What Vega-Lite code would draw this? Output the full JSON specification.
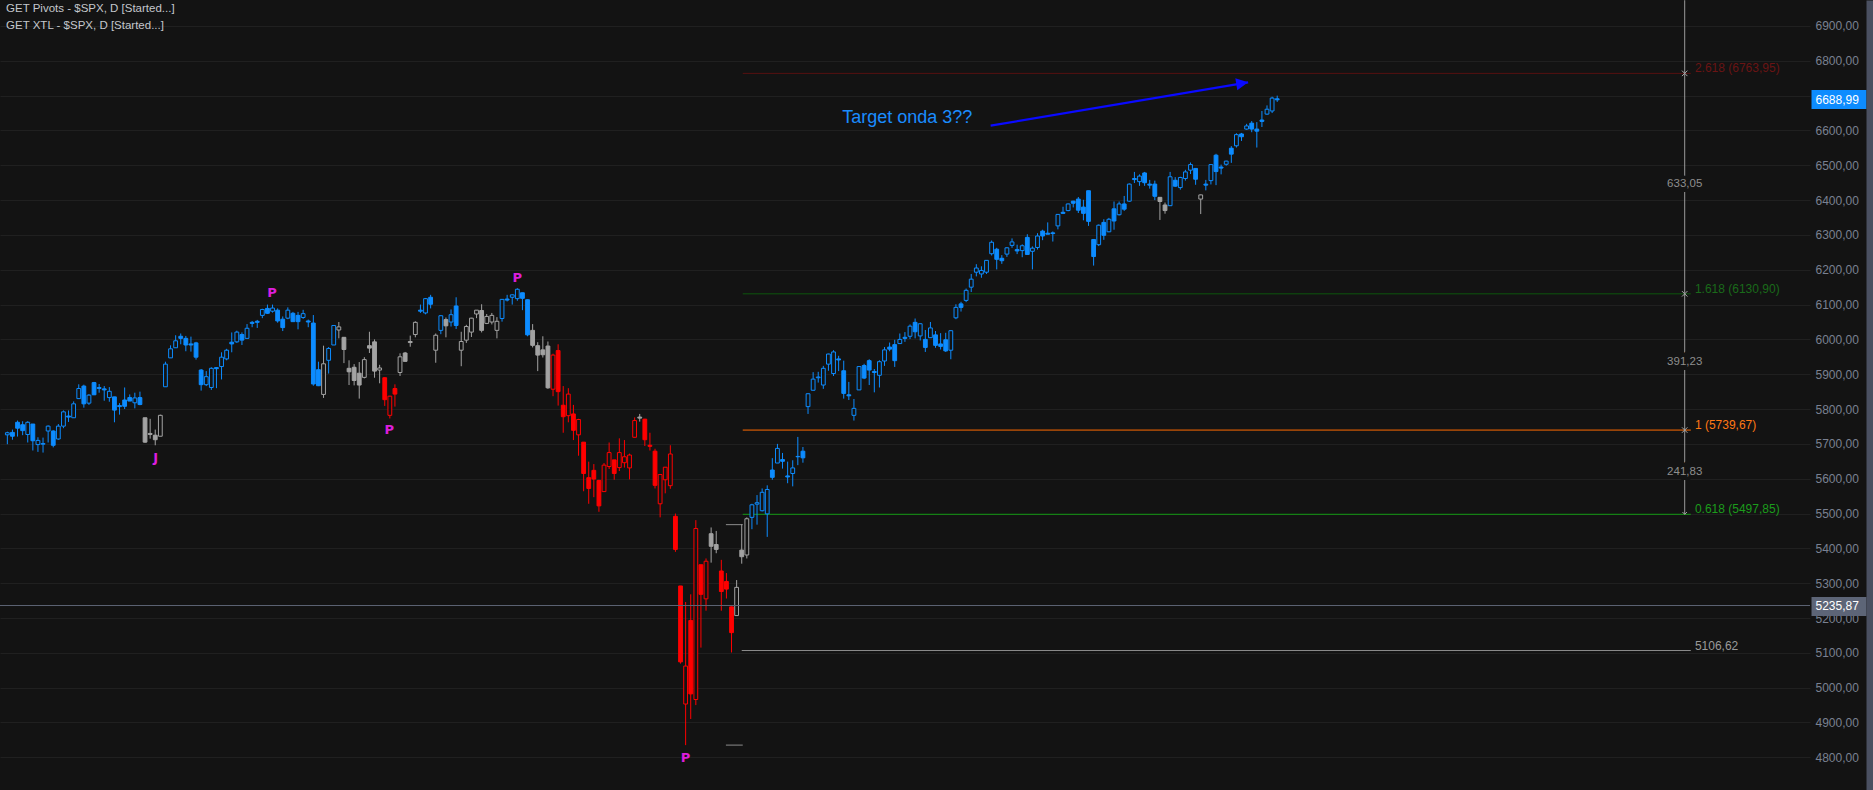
{
  "$schema": "https://vega.github.io/schema/vega-lite/v6.json",
  "width": 1810,
  "height": 790,
  "autosize": {"type": "none"},
  "padding": {"left": 0, "top": 0, "right": 63, "bottom": 0},
  "background": "#131313",
  "config": {"view": {"stroke": null}, "axis": {"labelFont": "Liberation Sans"}},
  "datasets": {
    "candles": [
      {"i":-5,"o":5726,"h":5735,"l":5699,"c":5732,"t":"b"},
      {"i":-4,"o":5733,"h":5741,"l":5712,"c":5722,"t":"b"},
      {"i":-3,"o":5762,"h":5767,"l":5721,"c":5745,"t":"b"},
      {"i":-2,"o":5755,"h":5765,"l":5725,"c":5738,"t":"b"},
      {"i":-1,"o":5727,"h":5765,"l":5704,"c":5762,"t":"b"},
      {"i":0,"o":5757,"h":5757,"l":5681,"c":5709,"t":"b"},
      {"i":1,"o":5698,"h":5719,"l":5677,"c":5710,"t":"b"},
      {"i":2,"o":5699,"h":5718,"l":5675,"c":5701,"t":"b"},
      {"i":3,"o":5737,"h":5753,"l":5704,"c":5751,"t":"b"},
      {"i":4,"o":5737,"h":5739,"l":5690,"c":5696,"t":"b"},
      {"i":5,"o":5714,"h":5757,"l":5712,"c":5751,"t":"b"},
      {"i":6,"o":5751,"h":5796,"l":5745,"c":5792,"t":"b"},
      {"i":7,"o":5780,"h":5796,"l":5763,"c":5777,"t":"b"},
      {"i":8,"o":5775,"h":5822,"l":5775,"c":5815,"t":"b"},
      {"i":9,"o":5830,"h":5871,"l":5829,"c":5859,"t":"b"},
      {"i":10,"o":5866,"h":5870,"l":5804,"c":5815,"t":"b"},
      {"i":11,"o":5817,"h":5843,"l":5812,"c":5840,"t":"b"},
      {"i":12,"o":5876,"h":5878,"l":5840,"c":5841,"t":"b"},
      {"i":13,"o":5862,"h":5872,"l":5847,"c":5859,"t":"b"},
      {"i":14,"o":5858,"h":5866,"l":5824,"c":5855,"t":"b"},
      {"i":15,"o":5833,"h":5863,"l":5821,"c":5851,"t":"b"},
      {"i":16,"o":5835,"h":5835,"l":5762,"c":5797,"t":"b"},
      {"i":17,"o":5810,"h":5817,"l":5784,"c":5807,"t":"b"},
      {"i":18,"o":5826,"h":5862,"l":5800,"c":5808,"t":"b"},
      {"i":19,"o":5833,"h":5842,"l":5823,"c":5823,"t":"b"},
      {"i":20,"o":5818,"h":5847,"l":5802,"c":5832,"t":"b"},
      {"i":21,"o":5833,"h":5850,"l":5811,"c":5813,"t":"b"},
      {"i":22,"o":5775,"h":5775,"l":5703,"c":5705,"t":"g"},
      {"i":23,"o":5730,"h":5772,"l":5715,"c":5727,"t":"g"},
      {"i":24,"o":5725,"h":5741,"l":5696,"c":5712,"t":"g"},
      {"i":25,"o":5722,"h":5784,"l":5722,"c":5782,"t":"g"},
      {"i":26,"o":5864,"h":5936,"l":5864,"c":5929,"t":"b"},
      {"i":27,"o":5947,"h":5983,"l":5947,"c":5973,"t":"b"},
      {"i":28,"o":5976,"h":6012,"l":5976,"c":5996,"t":"b"},
      {"i":29,"o":6009,"h":6017,"l":5986,"c":6003,"t":"b"},
      {"i":30,"o":6003,"h":6010,"l":5966,"c":5984,"t":"b"},
      {"i":31,"o":5987,"h":6008,"l":5965,"c":5984,"t":"b"},
      {"i":32,"o":5990,"h":5993,"l":5942,"c":5949,"t":"b"},
      {"i":33,"o":5912,"h":5915,"l":5853,"c":5870,"t":"b"},
      {"i":34,"o":5870,"h":5909,"l":5866,"c":5893,"t":"b"},
      {"i":35,"o":5862,"h":5920,"l":5855,"c":5917,"t":"b"},
      {"i":36,"o":5919,"h":5920,"l":5860,"c":5916,"t":"b"},
      {"i":37,"o":5922,"h":5963,"l":5885,"c":5949,"t":"b"},
      {"i":38,"o":5944,"h":5973,"l":5940,"c":5969,"t":"b"},
      {"i":39,"o":5992,"h":6020,"l":5963,"c":5987,"t":"b"},
      {"i":40,"o":5993,"h":6025,"l":5990,"c":6021,"t":"b"},
      {"i":41,"o":6014,"h":6020,"l":5984,"c":5998,"t":"b"},
      {"i":42,"o":6003,"h":6044,"l":6003,"c":6032,"t":"b"},
      {"i":43,"o":6049,"h":6053,"l":6035,"c":6046,"t":"b"},
      {"i":44,"o":6052,"h":6056,"l":6033,"c":6049,"t":"b"},
      {"i":45,"o":6069,"h":6088,"l":6061,"c":6086,"t":"b"},
      {"i":46,"o":6089,"h":6100,"l":6073,"c":6075,"t":"b"},
      {"i":47,"o":6081,"h":6100,"l":6077,"c":6090,"t":"b"},
      {"i":48,"o":6084,"h":6089,"l":6048,"c":6053,"t":"b"},
      {"i":49,"o":6058,"h":6066,"l":6024,"c":6034,"t":"b"},
      {"i":50,"o":6061,"h":6092,"l":6058,"c":6084,"t":"b"},
      {"i":51,"o":6075,"h":6079,"l":6051,"c":6051,"t":"b"},
      {"i":52,"o":6069,"h":6079,"l":6029,"c":6051,"t":"b"},
      {"i":53,"o":6063,"h":6085,"l":6059,"c":6074,"t":"b"},
      {"i":54,"o":6053,"h":6057,"l":6035,"c":6050,"t":"b"},
      {"i":55,"o":6047,"h":6070,"l":5867,"c":5872,"t":"b"},
      {"i":56,"o":5913,"h":5936,"l":5866,"c":5867,"t":"b"},
      {"i":57,"o":5842,"h":5982,"l":5832,"c":5930,"t":"g"},
      {"i":58,"o":5940,"h":5978,"l":5902,"c":5974,"t":"b"},
      {"i":59,"o":5984,"h":6040,"l":5984,"c":6040,"t":"b"},
      {"i":60,"o":6027,"h":6050,"l":6003,"c":6036,"t":"g"},
      {"i":61,"o":6006,"h":6007,"l":5932,"c":5971,"t":"g"},
      {"i":62,"o":5917,"h":5940,"l":5869,"c":5907,"t":"g"},
      {"i":63,"o":5920,"h":5929,"l":5868,"c":5882,"t":"g"},
      {"i":64,"o":5903,"h":5935,"l":5830,"c":5869,"t":"g"},
      {"i":65,"o":5891,"h":5949,"l":5888,"c":5942,"t":"g"},
      {"i":66,"o":5982,"h":6022,"l":5961,"c":5975,"t":"g"},
      {"i":67,"o":5993,"h":6000,"l":5890,"c":5909,"t":"g"},
      {"i":68,"o":5912,"h":5927,"l":5874,"c":5918,"t":"g"},
      {"i":69,"o":5890,"h":5891,"l":5809,"c":5827,"t":"r"},
      {"i":70,"o":5782,"h":5838,"l":5773,"c":5837,"t":"r"},
      {"i":71,"o":5859,"h":5871,"l":5807,"c":5843,"t":"r"},
      {"i":72,"o":5905,"h":5960,"l":5895,"c":5950,"t":"g"},
      {"i":73,"o":5961,"h":5964,"l":5936,"c":5937,"t":"g"},
      {"i":74,"o":5994,"h":6011,"l":5979,"c":5991,"t":"g"},
      {"i":75,"o":6014,"h":6052,"l":6006,"c":6049,"t":"g"},
      {"i":76,"o":6084,"h":6100,"l":6076,"c":6081,"t":"b"},
      {"i":77,"o":6076,"h":6119,"l":6072,"c":6117,"t":"b"},
      {"i":78,"o":6121,"h":6128,"l":6089,"c":6101,"t":"b"},
      {"i":79,"o":5969,"h":6017,"l":5933,"c":6012,"t":"g"},
      {"i":80,"o":6026,"h":6069,"l":6015,"c":6068,"t":"b"},
      {"i":81,"o":6057,"h":6063,"l":6006,"c":6039,"t":"g"},
      {"i":82,"o":6050,"h":6086,"l":6037,"c":6071,"t":"b"},
      {"i":83,"o":6096,"h":6121,"l":6030,"c":6040,"t":"b"},
      {"i":84,"o":5969,"h":6022,"l":5923,"c":5994,"t":"g"},
      {"i":85,"o":5998,"h":6042,"l":5990,"c":6037,"t":"g"},
      {"i":86,"o":6021,"h":6062,"l":6007,"c":6061,"t":"g"},
      {"i":87,"o":6073,"h":6084,"l":6061,"c":6084,"t":"g"},
      {"i":88,"o":6083,"h":6101,"l":6020,"c":6026,"t":"g"},
      {"i":89,"o":6046,"h":6073,"l":6044,"c":6066,"t":"g"},
      {"i":90,"o":6050,"h":6076,"l":6043,"c":6069,"t":"g"},
      {"i":91,"o":6026,"h":6064,"l":6003,"c":6052,"t":"g"},
      {"i":92,"o":6060,"h":6116,"l":6051,"c":6115,"t":"b"},
      {"i":93,"o":6116,"h":6128,"l":6109,"c":6113,"t":"b"},
      {"i":94,"o":6121,"h":6129,"l":6100,"c":6128,"t":"b"},
      {"i":95,"o":6117,"h":6147,"l":6111,"c":6144,"t":"b"},
      {"i":96,"o":6134,"h":6134,"l":6084,"c":6118,"t":"b"},
      {"i":97,"o":6114,"h":6115,"l":6009,"c":6013,"t":"b"},
      {"i":98,"o":6026,"h":6044,"l":5977,"c":5983,"t":"g"},
      {"i":99,"o":5982,"h":5992,"l":5909,"c":5955,"t":"g"},
      {"i":100,"o":5970,"h":6009,"l":5948,"c":5956,"t":"g"},
      {"i":101,"o":5981,"h":5994,"l":5858,"c":5861,"t":"g"},
      {"i":102,"o":5857,"h":5959,"l":5837,"c":5955,"t":"r"},
      {"i":103,"o":5968,"h":5986,"l":5810,"c":5850,"t":"r"},
      {"i":104,"o":5811,"h":5866,"l":5732,"c":5778,"t":"r"},
      {"i":105,"o":5781,"h":5860,"l":5762,"c":5843,"t":"r"},
      {"i":106,"o":5786,"h":5812,"l":5711,"c":5739,"t":"r"},
      {"i":107,"o":5726,"h":5772,"l":5666,"c":5770,"t":"r"},
      {"i":108,"o":5705,"h":5705,"l":5564,"c":5615,"t":"r"},
      {"i":109,"o":5603,"h":5649,"l":5528,"c":5572,"t":"r"},
      {"i":110,"o":5624,"h":5642,"l":5547,"c":5599,"t":"r"},
      {"i":111,"o":5595,"h":5597,"l":5505,"c":5522,"t":"r"},
      {"i":112,"o":5563,"h":5645,"l":5563,"c":5639,"t":"r"},
      {"i":113,"o":5635,"h":5704,"l":5628,"c":5675,"t":"r"},
      {"i":114,"o":5654,"h":5654,"l":5597,"c":5615,"t":"r"},
      {"i":115,"o":5632,"h":5716,"l":5622,"c":5675,"t":"r"},
      {"i":116,"o":5646,"h":5711,"l":5632,"c":5663,"t":"r"},
      {"i":117,"o":5631,"h":5672,"l":5598,"c":5668,"t":"r"},
      {"i":118,"o":5719,"h":5776,"l":5719,"c":5767,"t":"r"},
      {"i":119,"o":5777,"h":5786,"l":5764,"c":5774,"t":"g"},
      {"i":120,"o":5771,"h":5772,"l":5694,"c":5712,"t":"r"},
      {"i":121,"o":5696,"h":5732,"l":5681,"c":5693,"t":"r"},
      {"i":122,"o":5679,"h":5686,"l":5572,"c":5581,"t":"r"},
      {"i":123,"o":5528,"h":5613,"l":5489,"c":5612,"t":"r"},
      {"i":124,"o":5597,"h":5633,"l":5558,"c":5633,"t":"r"},
      {"i":125,"o":5580,"h":5696,"l":5571,"c":5671,"t":"r"},
      {"i":126,"o":5492,"h":5500,"l":5390,"c":5397,"t":"r"},
      {"i":127,"o":5292,"h":5292,"l":5069,"c":5074,"t":"r"},
      {"i":128,"o":4953,"h":5246,"l":4835,"c":5062,"t":"r"},
      {"i":129,"o":5193,"h":5268,"l":4910,"c":4982,"t":"r"},
      {"i":130,"o":4966,"h":5481,"l":4950,"c":5457,"t":"r"},
      {"i":131,"o":5353,"h":5353,"l":5115,"c":5268,"t":"r"},
      {"i":132,"o":5255,"h":5371,"l":5221,"c":5363,"t":"r"},
      {"i":133,"o":5442,"h":5460,"l":5359,"c":5406,"t":"g"},
      {"i":134,"o":5411,"h":5450,"l":5386,"c":5397,"t":"g"},
      {"i":135,"o":5335,"h":5367,"l":5221,"c":5276,"t":"r"},
      {"i":136,"o":5305,"h":5329,"l":5256,"c":5283,"t":"r"},
      {"i":137,"o":5232,"h":5233,"l":5101,"c":5158,"t":"r"},
      {"i":138,"o":5207,"h":5309,"l":5207,"c":5288,"t":"g"},
      {"i":139,"o":5395,"h":5469,"l":5356,"c":5376,"t":"g"},
      {"i":140,"o":5381,"h":5489,"l":5371,"c":5485,"t":"g"},
      {"i":141,"o":5489,"h":5528,"l":5455,"c":5525,"t":"b"},
      {"i":142,"o":5527,"h":5553,"l":5468,"c":5531,"t":"b"},
      {"i":143,"o":5508,"h":5572,"l":5506,"c":5561,"t":"b"},
      {"i":144,"o":5499,"h":5581,"l":5433,"c":5569,"t":"b"},
      {"i":145,"o":5625,"h":5659,"l":5597,"c":5604,"t":"b"},
      {"i":146,"o":5645,"h":5700,"l":5645,"c":5687,"t":"b"},
      {"i":147,"o":5655,"h":5674,"l":5629,"c":5650,"t":"b"},
      {"i":148,"o":5608,"h":5649,"l":5587,"c":5605,"t":"b"},
      {"i":149,"o":5615,"h":5653,"l":5578,"c":5631,"t":"b"},
      {"i":150,"o":5663,"h":5720,"l":5639,"c":5664,"t":"b"},
      {"i":151,"o":5679,"h":5691,"l":5646,"c":5660,"t":"b"},
      {"i":152,"o":5807,"h":5845,"l":5786,"c":5844,"t":"b"},
      {"i":153,"o":5854,"h":5906,"l":5853,"c":5886,"t":"b"},
      {"i":154,"o":5890,"h":5907,"l":5876,"c":5892,"t":"b"},
      {"i":155,"o":5869,"h":5924,"l":5858,"c":5917,"t":"b"},
      {"i":156,"o":5929,"h":5959,"l":5910,"c":5958,"t":"b"},
      {"i":157,"o":5902,"h":5969,"l":5895,"c":5964,"t":"b"},
      {"i":158,"o":5944,"h":5953,"l":5909,"c":5941,"t":"b"},
      {"i":159,"o":5910,"h":5939,"l":5830,"c":5845,"t":"b"},
      {"i":160,"o":5841,"h":5878,"l":5826,"c":5838,"t":"b"},
      {"i":161,"o":5782,"h":5829,"l":5767,"c":5802,"t":"b"},
      {"i":162,"o":5855,"h":5922,"l":5855,"c":5922,"t":"b"},
      {"i":163,"o":5925,"h":5930,"l":5886,"c":5889,"t":"b"},
      {"i":164,"o":5939,"h":5943,"l":5869,"c":5912,"t":"b"},
      {"i":165,"o":5908,"h":5915,"l":5848,"c":5905,"t":"b"},
      {"i":166,"o":5897,"h":5940,"l":5862,"c":5936,"t":"b"},
      {"i":167,"o":5938,"h":5978,"l":5924,"c":5970,"t":"b"},
      {"i":168,"o":5978,"h":5991,"l":5966,"c":5972,"t":"b"},
      {"i":169,"o":5985,"h":5999,"l":5921,"c":5939,"t":"b"},
      {"i":170,"o":5988,"h":6017,"l":5987,"c":6000,"t":"b"},
      {"i":171,"o":6006,"h":6021,"l":5993,"c":6003,"t":"b"},
      {"i":172,"o":6009,"h":6043,"l":6001,"c":6038,"t":"b"},
      {"i":173,"o":6049,"h":6060,"l":6003,"c":6022,"t":"b"},
      {"i":174,"o":6010,"h":6046,"l":5997,"c":6045,"t":"b"},
      {"i":175,"o":6000,"h":6027,"l":5964,"c":5977,"t":"b"},
      {"i":176,"o":6005,"h":6050,"l":6005,"c":6033,"t":"b"},
      {"i":177,"o":6013,"h":6024,"l":5976,"c":5983,"t":"b"},
      {"i":178,"o":5987,"h":6018,"l":5971,"c":5980,"t":"b"},
      {"i":179,"o":5999,"h":6019,"l":5964,"c":5967,"t":"b"},
      {"i":180,"o":5969,"h":6026,"l":5943,"c":6025,"t":"b"},
      {"i":181,"o":6062,"h":6101,"l":6058,"c":6092,"t":"b"},
      {"i":182,"o":6102,"h":6108,"l":6080,"c":6092,"t":"b"},
      {"i":183,"o":6112,"h":6146,"l":6107,"c":6141,"t":"b"},
      {"i":184,"o":6150,"h":6188,"l":6136,"c":6173,"t":"b"},
      {"i":185,"o":6193,"h":6216,"l":6181,"c":6205,"t":"b"},
      {"i":186,"o":6188,"h":6210,"l":6177,"c":6198,"t":"b"},
      {"i":187,"o":6193,"h":6227,"l":6188,"c":6227,"t":"b"},
      {"i":188,"o":6246,"h":6284,"l":6241,"c":6279,"t":"b"},
      {"i":189,"o":6259,"h":6263,"l":6201,"c":6230,"t":"b"},
      {"i":190,"o":6233,"h":6242,"l":6217,"c":6226,"t":"b"},
      {"i":191,"o":6245,"h":6265,"l":6237,"c":6263,"t":"b"},
      {"i":192,"o":6270,"h":6290,"l":6263,"c":6280,"t":"b"},
      {"i":193,"o":6258,"h":6272,"l":6245,"c":6254,"t":"b"},
      {"i":194,"o":6255,"h":6273,"l":6236,"c":6269,"t":"b"},
      {"i":195,"o":6293,"h":6302,"l":6244,"c":6244,"t":"b"},
      {"i":196,"o":6253,"h":6267,"l":6201,"c":6262,"t":"b"},
      {"i":197,"o":6264,"h":6305,"l":6258,"c":6297,"t":"b"},
      {"i":198,"o":6311,"h":6315,"l":6285,"c":6297,"t":"b"},
      {"i":199,"o":6305,"h":6336,"l":6303,"c":6302,"t":"b"},
      {"i":200,"o":6306,"h":6310,"l":6281,"c":6304,"t":"b"},
      {"i":201,"o":6326,"h":6360,"l":6316,"c":6359,"t":"b"},
      {"i":202,"o":6365,"h":6381,"l":6360,"c":6362,"t":"b"},
      {"i":203,"o":6370,"h":6390,"l":6368,"c":6389,"t":"b"},
      {"i":204,"o":6397,"h":6398,"l":6379,"c":6391,"t":"b"},
      {"i":205,"o":6403,"h":6409,"l":6363,"c":6371,"t":"b"},
      {"i":206,"o":6380,"h":6401,"l":6342,"c":6362,"t":"b"},
      {"i":207,"o":6427,"h":6427,"l":6326,"c":6339,"t":"b"},
      {"i":208,"o":6287,"h":6288,"l":6212,"c":6238,"t":"b"},
      {"i":209,"o":6272,"h":6330,"l":6268,"c":6328,"t":"b"},
      {"i":210,"o":6336,"h":6345,"l":6286,"c":6299,"t":"b"},
      {"i":211,"o":6309,"h":6349,"l":6308,"c":6345,"t":"b"},
      {"i":212,"o":6375,"h":6396,"l":6315,"c":6340,"t":"b"},
      {"i":213,"o":6358,"h":6396,"l":6356,"c":6389,"t":"b"},
      {"i":214,"o":6389,"h":6412,"l":6369,"c":6374,"t":"b"},
      {"i":215,"o":6397,"h":6448,"l":6395,"c":6446,"t":"b"},
      {"i":216,"o":6462,"h":6481,"l":6449,"c":6459,"t":"b"},
      {"i":217,"o":6453,"h":6474,"l":6441,"c":6469,"t":"b"},
      {"i":218,"o":6478,"h":6481,"l":6441,"c":6450,"t":"b"},
      {"i":219,"o":6446,"h":6458,"l":6433,"c":6443,"t":"b"},
      {"i":220,"o":6446,"h":6456,"l":6400,"c":6411,"t":"b"},
      {"i":221,"o":6408,"h":6409,"l":6343,"c":6396,"t":"g"},
      {"i":222,"o":6386,"h":6393,"l":6361,"c":6370,"t":"g"},
      {"i":223,"o":6384,"h":6481,"l":6384,"c":6467,"t":"b"},
      {"i":224,"o":6457,"h":6466,"l":6438,"c":6440,"t":"b"},
      {"i":225,"o":6436,"h":6467,"l":6430,"c":6465,"t":"b"},
      {"i":226,"o":6462,"h":6487,"l":6456,"c":6481,"t":"b"},
      {"i":227,"o":6486,"h":6508,"l":6475,"c":6502,"t":"b"},
      {"i":228,"o":6491,"h":6491,"l":6444,"c":6460,"t":"b"},
      {"i":229,"o":6403,"h":6416,"l":6360,"c":6415,"t":"g"},
      {"i":230,"o":6446,"h":6458,"l":6428,"c":6443,"t":"b"},
      {"i":231,"o":6456,"h":6502,"l":6445,"c":6502,"t":"b"},
      {"i":232,"o":6529,"h":6533,"l":6443,"c":6482,"t":"b"},
      {"i":233,"o":6495,"h":6502,"l":6474,"c":6492,"t":"b"},
      {"i":234,"o":6503,"h":6513,"l":6499,"c":6512,"t":"b"},
      {"i":235,"o":6549,"h":6555,"l":6507,"c":6532,"t":"b"},
      {"i":236,"o":6556,"h":6592,"l":6551,"c":6588,"t":"b"},
      {"i":237,"o":6590,"h":6593,"l":6570,"c":6582,"t":"b"},
      {"i":238,"o":6604,"h":6619,"l":6602,"c":6613,"t":"b"},
      {"i":239,"o":6621,"h":6627,"l":6595,"c":6604,"t":"b"},
      {"i":240,"o":6604,"h":6624,"l":6551,"c":6598,"t":"b"},
      {"i":241,"o":6630,"h":6656,"l":6610,"c":6626,"t":"b"},
      {"i":242,"o":6647,"h":6672,"l":6645,"c":6661,"t":"b"},
      {"i":243,"o":6656,"h":6697,"l":6650,"c":6693,"t":"b"},
      {"i":244,"o":6691,"h":6700,"l":6682,"c":6688,"t":"b"}
    ],
    "fib": [
      {"k":"2.618","v":6763.95,"a":139.2,"b":325.1,"lx":325.9,"lab":"2.618 (6763,95)"},
      {"k":"1.618","v":6130.9,"a":139.2,"b":325.1,"lx":325.9,"lab":"1.618 (6130,90)"},
      {"k":"1","v":5739.67,"a":139.2,"b":325.1,"lx":325.9,"lab":"1 (5739,67)"},
      {"k":"0.618","v":5497.85,"a":139.2,"b":325.1,"lx":325.9,"lab":"0.618 (5497,85)"},
      {"k":"0","v":5106.62,"a":139.0,"b":325.1,"lx":325.9,"lab":"5106,62"}
    ],
    "ab": [
      {"a":135.9,"b":139.2,"v":5468.09},
      {"a":135.9,"b":139.2,"v":4835.04}
    ],
    "vline": [{"x":323.9,"top":6974,"bot":5497.85}],
    "measures": [
      {"x":323.9,"v":6447.4,"lab":"633,05"},
      {"x":323.9,"v":5935.3,"lab":"391,23"},
      {"x":323.9,"v":5618.8,"lab":"241,83"}
    ],
    "marks": [
      {"x":323.9,"v":6763.95},
      {"x":323.9,"v":6130.9},
      {"x":323.9,"v":5739.67}
    ],
    "tip": [{"x":323.9,"v":5497.85}],
    "cross": [{"v":5235.87}],
    "note": [{"x":158.7,"v":6622.3,"lab":"Target onda 3??"}],
    "arrow": [{"x":187.8,"v":6613.7,"x2":238.3,"v2":6738.3}],
    "pivots": [
      {"i":24.1,"v":5660,"lab":"J"},
      {"i":46.9,"v":6133,"lab":"P"},
      {"i":69.9,"v":5740,"lab":"P"},
      {"i":95,"v":6176,"lab":"P"},
      {"i":128,"v":4799,"lab":"P"}
    ],
    "header": [
      {"x":-5.25,"v":6949.7,"lab":"GET Pivots - $SPX, D [Started...]"},
      {"x":-5.25,"v":6900.6,"lab":"GET XTL - $SPX, D [Started...]"}
    ]
  },
  "resolve": {
    "scale": {"color": "independent", "fill": "independent", "stroke": "independent"},
    "axis": {"y": "independent"}
  },
  "layer": [
    {
      "data": {"name": "fib"},
      "mark": {"type": "rule", "strokeWidth": 1},
      "encoding": {
        "x": {"field": "a", "type": "quantitative", "scale": {"domain": [-5.46, 347.49], "nice": false, "zero": false},
              "axis": {"orient": "bottom", "values": [0, 23, 42.5, 63.5, 83.5, 102.5, 124, 145, 165.5, 186, 208, 229], "grid": true, "gridColor": "#202020", "labels": false, "ticks": false, "domain": false, "title": null}},
        "x2": {"field": "b"},
        "y": {"field": "v", "type": "quantitative", "scale": {"domain": [4706.1, 6974.66], "nice": false, "zero": false},
              "axis": {"orient": "right", "values": [4800, 4900, 5000, 5100, 5200, 5300, 5400, 5500, 5600, 5700, 5800, 5900, 6000, 6100, 6200, 6300, 6400, 6500, 6600, 6700, 6800, 6900],
                       "labelExpr": "datum.value == 6700 ? '' : replace(format(datum.value, '.2f'), '.', ',')", "labelColor": "#7a8191", "labelFontSize": 12, "labelPadding": 5,
                       "labelBaseline": "middle", "labelFlush": false, "labelOverlap": false, "ticks": false, "domain": false,
                       "grid": true, "gridColor": "#202020", "title": null}},
        "color": {"field": "k", "type": "nominal", "legend": null,
                  "scale": {"domain": ["2.618", "1.618", "1", "0.618", "0"], "range": ["#561010", "#0d560d", "#ff6a00", "#129a12", "#8c8c8c"]}}
      }
    },
    {
      "data": {"name": "ab"},
      "mark": {"type": "rule", "strokeWidth": 1, "color": "#8c8c8c"},
      "encoding": {
        "x": {"field": "a", "type": "quantitative", "scale": {"domain": [-5.46, 347.49], "nice": false, "zero": false}, "axis": null},
        "x2": {"field": "b"},
        "y": {"field": "v", "type": "quantitative", "scale": {"domain": [4706.1, 6974.66], "nice": false, "zero": false}, "axis": null}
      }
    },
    {
      "data": {"name": "candles"},
      "mark": {"type": "rule", "strokeWidth": 1},
      "encoding": {
        "x": {"field": "i", "type": "quantitative", "scale": {"domain": [-5.46, 347.49], "nice": false, "zero": false}, "axis": null},
        "y": {"field": "l", "type": "quantitative", "scale": {"domain": [4706.1, 6974.66], "nice": false, "zero": false}, "axis": null},
        "y2": {"field": "h"},
        "color": {"field": "t", "type": "nominal", "legend": null, "scale": {"domain": ["b", "g", "r"], "range": ["#0d8cff", "#a3a3a3", "#ff0000"]}}
      }
    },
    {
      "data": {"name": "candles"},
      "transform": [{"filter": "datum.c < datum.o"}],
      "mark": {"type": "bar", "width": 3.8, "strokeWidth": 1},
      "encoding": {
        "x": {"field": "i", "type": "quantitative", "scale": {"domain": [-5.46, 347.49], "nice": false, "zero": false}, "axis": null},
        "y": {"field": "o", "type": "quantitative", "scale": {"domain": [4706.1, 6974.66], "nice": false, "zero": false}, "axis": null},
        "y2": {"field": "c"},
        "fill": {"field": "t", "type": "nominal", "legend": null, "scale": {"domain": ["b", "g", "r"], "range": ["#0d8cff", "#a3a3a3", "#ff0000"]}},
        "stroke": {"field": "t", "type": "nominal", "legend": null, "scale": {"domain": ["b", "g", "r"], "range": ["#0d8cff", "#a3a3a3", "#ff0000"]}}
      }
    },
    {
      "data": {"name": "candles"},
      "transform": [{"filter": "datum.c >= datum.o"}],
      "mark": {"type": "bar", "width": 3.8, "strokeWidth": 1, "fill": "#131313"},
      "encoding": {
        "x": {"field": "i", "type": "quantitative", "scale": {"domain": [-5.46, 347.49], "nice": false, "zero": false}, "axis": null},
        "y": {"field": "o", "type": "quantitative", "scale": {"domain": [4706.1, 6974.66], "nice": false, "zero": false}, "axis": null},
        "y2": {"field": "c"},
        "stroke": {"field": "t", "type": "nominal", "legend": null, "scale": {"domain": ["b", "g", "r"], "range": ["#0d8cff", "#a3a3a3", "#ff0000"]}}
      }
    },
    {
      "data": {"name": "cross"},
      "mark": {"type": "rule", "strokeWidth": 1, "color": "#5b6272"},
      "encoding": {
        "y": {"field": "v", "type": "quantitative", "scale": {"domain": [4706.1, 6974.66], "nice": false, "zero": false},
              "axis": {"orient": "right", "values": [5235.87], "labelExpr": "'5235,87'", "labelColor": "#ffffff", "labelFontSize": 12,
                       "labelPadding": -51, "labelBaseline": "middle", "labelFlush": false, "labelOverlap": false,
                       "ticks": true, "tickSize": 55, "tickWidth": 19, "tickColor": "#5d6577", "offset": 1,
                       "domain": false, "grid": false, "title": null}}
      }
    },
    {
      "data": {"name": "vline"},
      "mark": {"type": "rule", "strokeWidth": 1, "color": "#9a9a9a"},
      "encoding": {
        "x": {"field": "x", "type": "quantitative", "scale": {"domain": [-5.46, 347.49], "nice": false, "zero": false}, "axis": null},
        "y": {"field": "top", "type": "quantitative", "scale": {"domain": [4706.1, 6974.66], "nice": false, "zero": false},
              "axis": {"orient": "right", "values": [6688.99], "labelExpr": "'6688,99'", "labelColor": "#ffffff", "labelFontSize": 12,
                       "labelPadding": -51, "labelBaseline": "middle", "labelFlush": false, "labelOverlap": false,
                       "ticks": true, "tickSize": 55, "tickWidth": 19, "tickColor": "#0d8cff", "offset": 1,
                       "domain": false, "grid": false, "title": null}},
        "y2": {"field": "bot"}
      }
    },
    {
      "data": {"name": "measures"},
      "mark": {"type": "text", "font": "Liberation Sans", "fontSize": 11.5, "align": "center", "baseline": "middle", "fill": "#131313", "stroke": "#131313", "strokeWidth": 7},
      "encoding": {
        "x": {"field": "x", "type": "quantitative", "scale": {"domain": [-5.46, 347.49], "nice": false, "zero": false}, "axis": null},
        "y": {"field": "v", "type": "quantitative", "scale": {"domain": [4706.1, 6974.66], "nice": false, "zero": false}, "axis": null},
        "text": {"field": "lab"}
      }
    },
    {
      "data": {"name": "measures"},
      "mark": {"type": "text", "font": "Liberation Sans", "fontSize": 11.5, "align": "center", "baseline": "middle", "color": "#8e8e8e"},
      "encoding": {
        "x": {"field": "x", "type": "quantitative", "scale": {"domain": [-5.46, 347.49], "nice": false, "zero": false}, "axis": null},
        "y": {"field": "v", "type": "quantitative", "scale": {"domain": [4706.1, 6974.66], "nice": false, "zero": false}, "axis": null},
        "text": {"field": "lab"}
      }
    },
    {
      "data": {"name": "fib"},
      "mark": {"type": "text", "font": "Liberation Sans", "fontSize": 12, "align": "left", "baseline": "alphabetic", "dy": -1},
      "encoding": {
        "x": {"field": "lx", "type": "quantitative", "scale": {"domain": [-5.46, 347.49], "nice": false, "zero": false}, "axis": null},
        "y": {"field": "v", "type": "quantitative", "scale": {"domain": [4706.1, 6974.66], "nice": false, "zero": false}, "axis": null},
        "text": {"field": "lab"},
        "color": {"field": "k", "type": "nominal", "legend": null,
                  "scale": {"domain": ["2.618", "1.618", "1", "0.618", "0"], "range": ["#6a1414", "#1a6a1a", "#ff7814", "#1c9c1c", "#9a9a9a"]}}
      }
    },
    {
      "data": {"name": "marks"},
      "mark": {"type": "point", "shape": "M-1,-1L1,1M-1,1L1,-1", "size": 30, "filled": false, "strokeWidth": 1, "color": "#a8a8a8", "opacity": 1},
      "encoding": {
        "x": {"field": "x", "type": "quantitative", "scale": {"domain": [-5.46, 347.49], "nice": false, "zero": false}, "axis": null},
        "y": {"field": "v", "type": "quantitative", "scale": {"domain": [4706.1, 6974.66], "nice": false, "zero": false}, "axis": null}
      }
    },
    {
      "data": {"name": "tip"},
      "mark": {"type": "point", "shape": "M-1,-1L0,0L1,-1", "size": 20, "filled": false, "strokeWidth": 1, "color": "#a8a8a8", "opacity": 1},
      "encoding": {
        "x": {"field": "x", "type": "quantitative", "scale": {"domain": [-5.46, 347.49], "nice": false, "zero": false}, "axis": null},
        "y": {"field": "v", "type": "quantitative", "scale": {"domain": [4706.1, 6974.66], "nice": false, "zero": false}, "axis": null}
      }
    },
    {
      "data": {"name": "arrow"},
      "mark": {"type": "rule", "strokeWidth": 2.2, "color": "#0a0aff"},
      "encoding": {
        "x": {"field": "x", "type": "quantitative", "scale": {"domain": [-5.46, 347.49], "nice": false, "zero": false}, "axis": null},
        "x2": {"field": "x2"},
        "y": {"field": "v", "type": "quantitative", "scale": {"domain": [4706.1, 6974.66], "nice": false, "zero": false}, "axis": null},
        "y2": {"field": "v2"}
      }
    },
    {
      "data": {"name": "arrow"},
      "mark": {"type": "point", "shape": "M0,0L-2,-1L-2,1Z", "size": 144, "filled": true, "angle": 350.5, "color": "#0a0aff", "opacity": 1},
      "encoding": {
        "x": {"field": "x2", "type": "quantitative", "scale": {"domain": [-5.46, 347.49], "nice": false, "zero": false}, "axis": null},
        "y": {"field": "v2", "type": "quantitative", "scale": {"domain": [4706.1, 6974.66], "nice": false, "zero": false}, "axis": null}
      }
    },
    {
      "data": {"name": "note"},
      "mark": {"type": "text", "font": "Liberation Sans", "fontSize": 18, "align": "left", "baseline": "alphabetic", "color": "#1a8cff"},
      "encoding": {
        "x": {"field": "x", "type": "quantitative", "scale": {"domain": [-5.46, 347.49], "nice": false, "zero": false}, "axis": null},
        "y": {"field": "v", "type": "quantitative", "scale": {"domain": [4706.1, 6974.66], "nice": false, "zero": false}, "axis": null},
        "text": {"field": "lab"}
      }
    },
    {
      "data": {"name": "pivots"},
      "mark": {"type": "text", "font": "DejaVu Sans", "fontSize": 13, "fontWeight": "bold", "align": "center", "baseline": "middle", "color": "#dc1edc"},
      "encoding": {
        "x": {"field": "i", "type": "quantitative", "scale": {"domain": [-5.46, 347.49], "nice": false, "zero": false}, "axis": null},
        "y": {"field": "v", "type": "quantitative", "scale": {"domain": [4706.1, 6974.66], "nice": false, "zero": false}, "axis": null},
        "text": {"field": "lab"}
      }
    },
    {
      "data": {"name": "header"},
      "mark": {"type": "text", "font": "Liberation Sans", "fontSize": 11.5, "align": "left", "baseline": "middle", "color": "#c4c7cc"},
      "encoding": {
        "x": {"field": "x", "type": "quantitative", "scale": {"domain": [-5.46, 347.49], "nice": false, "zero": false}, "axis": null},
        "y": {"field": "v", "type": "quantitative", "scale": {"domain": [4706.1, 6974.66], "nice": false, "zero": false},
              "axis": {"orient": "right", "offset": 59.5, "domain": true, "domainColor": "#4a5061", "domainWidth": 7, "labels": false, "ticks": false, "grid": false, "title": null}},
        "text": {"field": "lab"}
      }
    }
  ]
}
